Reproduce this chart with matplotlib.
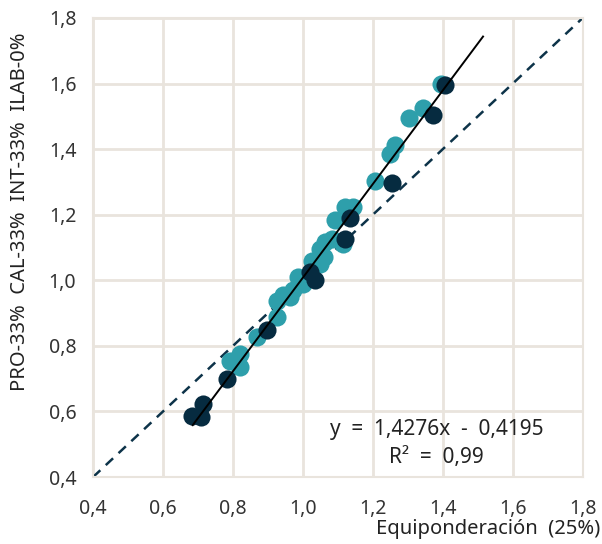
import matplotlib.pyplot as plt
import numpy as np

plt.rcParams['font.family'] = ['Noto Sans', 'DejaVu Sans']

# teal series
teal_x = [0.791, 0.806, 0.82, 0.82, 0.868, 0.925, 0.925, 0.944, 0.963, 0.972, 0.987, 1.00, 1.01,
          1.025, 1.049, 1.049, 1.06, 1.063, 1.082, 1.091, 1.115, 1.12, 1.144, 1.206, 1.249, 1.263,
          1.304, 1.344, 1.396]
teal_y = [0.755, 0.75, 0.775, 0.735, 0.826, 0.887, 0.938, 0.954, 0.948, 0.969, 1.01, 0.99, 1.0,
          1.06, 1.05, 1.096, 1.071, 1.116, 1.127, 1.183, 1.111, 1.223, 1.225, 1.303, 1.386, 1.412,
          1.496, 1.524, 1.598]

# dark series
dark_x = [0.682, 0.708, 0.715, 0.782, 0.898, 1.02, 1.034, 1.12, 1.134, 1.256, 1.372, 1.406]
dark_y = [0.587, 0.582, 0.623, 0.699, 0.847, 1.025, 1.0, 1.127, 1.19, 1.297, 1.505, 1.595]

slope = 1.4276
intercept = -0.4195
fit_range = [0.685, 1.515]

ticks = [0.4, 0.6, 0.8, 1.0, 1.2, 1.4, 1.6, 1.8]
tick_labels = ['0,4', '0,6', '0,8', '1,0', '1,2', '1,4', '1,6', '1,8']

fig = plt.figure(figsize=(6.02, 5.44), dpi=100)
ax = fig.add_axes([0.1545, 0.123, 0.8135, 0.844])

grid_c = '#E9E4DD'
ax.set_xlim(0.4, 1.8)
ax.set_ylim(0.4, 1.8)
ax.set_xticks(ticks)
ax.set_yticks(ticks)
ax.set_xticklabels(tick_labels)
ax.set_yticklabels(tick_labels)
ax.tick_params(length=0, labelsize=14, colors='#333333')
ax.tick_params(axis='x', pad=16)
ax.tick_params(axis='y', pad=12)
ax.grid(True, color=grid_c, linewidth=2)
ax.set_axisbelow(True)
for s in ax.spines.values():
    s.set_color(grid_c)
    s.set_linewidth(1.5)

# y = x reference line
ax.plot([0.4, 1.8], [0.4, 1.8], color='#0D3349', linestyle=(0, (4, 3)), linewidth=1.8, zorder=2)

ax.scatter(teal_x, teal_y, s=170, color='#2E9FAB', linewidths=0, zorder=3)
ax.scatter(dark_x, dark_y, s=170, color='#062B40', linewidths=0, zorder=4)

# linear trend
fx = np.array(fit_range)
ax.plot(fx, slope * fx + intercept, color='black', linewidth=1.4, zorder=5)

ax.text(1.383, 0.545, 'y  =  1,4276x  -  0,4195', ha='center', va='center', fontsize=15, color='#222222')
ax.text(1.383, 0.46, 'R²  =  0,99', ha='center', va='center', fontsize=15, color='#222222')

fig.text(0.997, 0.027, 'Equiponderación  (25%)', ha='right', va='center', fontsize=14.5, color='#222222')
fig.text(0.033, 0.61, 'PRO-33%  CAL-33%  INT-33%  ILAB-0%', rotation=90, ha='center', va='center',
         fontsize=14.5, color='#222222')

fig.savefig('out.png', dpi=100)
